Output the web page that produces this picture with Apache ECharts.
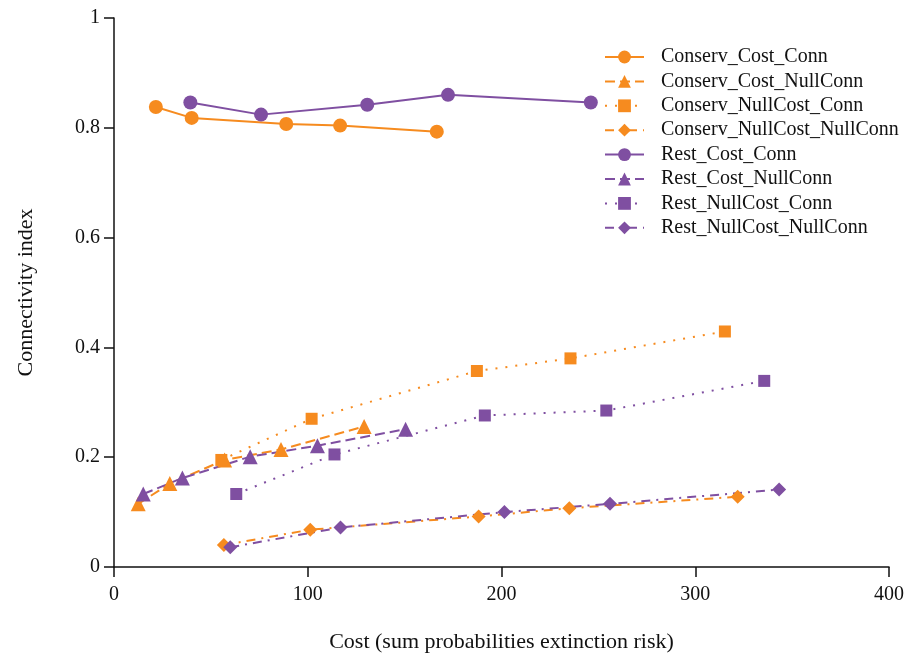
<!DOCTYPE html>
<html>
<head>
<meta charset="utf-8">
<script src="https://cdn.jsdelivr.net/npm/echarts@6/dist/echarts.min.js"></script>
<style>html,body{margin:0;padding:0;background:#fff;overflow:hidden;}#chart{width:907px;height:658px;}</style>
</head>
<body>
<div id="chart"></div>
<script>
// ---- data (x = cost, y = connectivity index) ----
const seriesNames = [
  'Conserv_Cost_Conn', 'Conserv_Cost_NullConn', 'Conserv_NullCost_Conn', 'Conserv_NullCost_NullConn',
  'Rest_Cost_Conn', 'Rest_Cost_NullConn', 'Rest_NullCost_Conn', 'Rest_NullCost_NullConn'
];
const conservCostConn_x = [21.6, 40.1, 88.9, 116.7, 166.6];
const conservCostConn_y = [0.838, 0.818, 0.807, 0.804, 0.793];
const conservCostNullConn_x = [12.5, 28.8, 57.1, 86.2, 129.1];
const conservCostNullConn_y = [0.115, 0.152, 0.195, 0.214, 0.256];
const conservNullCostConn_x = [55.4, 102.0, 187.3, 235.6, 315.3];
const conservNullCostConn_y = [0.195, 0.270, 0.357, 0.380, 0.429];
const conservNullCostNullConn_x = [56.7, 101.3, 188.2, 235.0, 321.9];
const conservNullCostNullConn_y = [0.040, 0.068, 0.092, 0.107, 0.128];
const restCostConn_x = [39.4, 75.9, 130.7, 172.4, 246.1];
const restCostConn_y = [0.846, 0.824, 0.842, 0.860, 0.846];
const restCostNullConn_x = [15.1, 35.3, 70.3, 105.0, 150.5];
const restCostNullConn_y = [0.133, 0.162, 0.201, 0.221, 0.251];
const restNullCostConn_x = [63.1, 113.8, 191.4, 254.1, 335.6];
const restNullCostConn_y = [0.133, 0.205, 0.276, 0.285, 0.339];
const restNullCostNullConn_x = [60.0, 116.9, 201.5, 256.0, 343.3];
const restNullCostNullConn_y = [0.036, 0.072, 0.100, 0.115, 0.141];
const xTicks = [0, 100, 200, 300, 400];
const yTicks = [0, 0.2, 0.4, 0.6, 0.8, 1];

const xs = [conservCostConn_x, conservCostNullConn_x, conservNullCostConn_x, conservNullCostNullConn_x,
            restCostConn_x, restCostNullConn_x, restNullCostConn_x, restNullCostNullConn_x];
const ys = [conservCostConn_y, conservCostNullConn_y, conservNullCostConn_y, conservNullCostNullConn_y,
            restCostConn_y, restCostNullConn_y, restNullCostConn_y, restNullCostNullConn_y];

const ORANGE = '#F68B1F';
const PURPLE = '#7F4FA1';
const symbols = ['circle', 'triangle', 'rect', 'diamond'];
const symbolSizes = [14, 15, 12, 14];
const lineTypes = ['solid', [10, 5], [2, 8], [9, 6, 2, 6]];

const FONT = '"Liberation Serif", "Times New Roman", serif';

const series = seriesNames.map(function (name, i) {
  const k = i % 4;
  const color = i < 4 ? ORANGE : PURPLE;
  return {
    name: name,
    type: 'line',
    data: xs[i].map(function (x, j) { return [x, ys[i][j]]; }),
    symbol: symbols[k],
    symbolSize: symbolSizes[k],
    showAllSymbol: true,
    color: color,
    itemStyle: { color: color },
    lineStyle: { color: color, width: 2, type: lineTypes[k] },
    emphasis: { disabled: true },
    animation: false
  };
});

const chart = echarts.init(document.getElementById('chart'), null, { renderer: 'canvas' });
chart.setOption({
  backgroundColor: '#fff',
  animation: false,
  grid: { left: 114, top: 18, width: 778, height: 554, containLabel: false },
  legend: {
    orient: 'vertical',
    left: 599,
    top: 42,
    itemWidth: 39,
    itemHeight: 16,
    itemGap: 4.4,
    data: seriesNames,
    textStyle: { fontFamily: FONT, fontSize: 20, color: '#111', padding: [0, 0, 0, 12], lineHeight: 20 }
  },
  xAxis: {
    type: 'value',
    min: xTicks[0],
    max: xTicks[xTicks.length - 1],
    interval: xTicks[1] - xTicks[0],
    name: 'Cost (sum probabilities extinction risk)',
    nameLocation: 'middle',
    nameGap: 64,
    nameTextStyle: { fontFamily: FONT, fontSize: 22, color: '#111' },
    axisLine: { show: true, lineStyle: { color: '#111', width: 1.5 } },
    axisTick: { show: true, length: 10, lineStyle: { color: '#111', width: 1.5 } },
    axisLabel: { fontFamily: FONT, fontSize: 20, color: '#111', margin: 18 },
    splitLine: { show: false }
  },
  yAxis: {
    type: 'value',
    min: yTicks[0],
    max: yTicks[yTicks.length - 1],
    interval: 0.2,
    name: 'Connectivity index',
    nameLocation: 'middle',
    nameGap: 77,
    nameTextStyle: { fontFamily: FONT, fontSize: 22, color: '#111' },
    axisLine: { show: true, lineStyle: { color: '#111', width: 1.5 } },
    axisTick: { show: true, length: 10, lineStyle: { color: '#111', width: 1.5 } },
    axisLabel: { fontFamily: FONT, fontSize: 20, color: '#111', margin: 14 },
    splitLine: { show: false }
  },
  series: series
});
</script>
</body>
</html>
